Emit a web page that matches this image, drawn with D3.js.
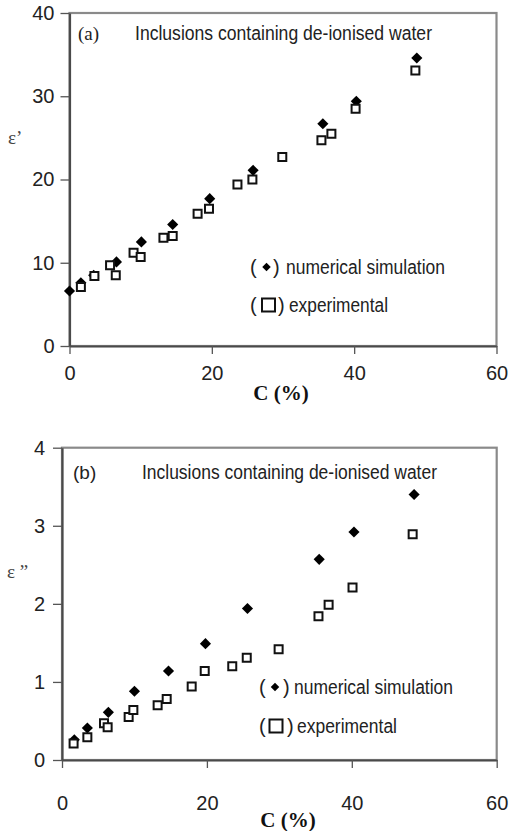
<!DOCTYPE html>
<html>
<head>
<meta charset="utf-8">
<script src="https://cdn.jsdelivr.net/npm/d3@7"></script>
<style>
  html, body { margin: 0; padding: 0; background: #fff; }
  svg { display: block; }
  .tick text { font-family: "Liberation Sans", Arial, sans-serif; font-size: 20px; fill: #222; }
</style>
</head>
<body>
<svg id="chart" width="510" height="831"></svg>
<script>
// ---------- DATA ----------
const xTicks = [0, 20, 40, 60];
const yTicksA = [0, 10, 20, 30, 40];
const yTicksB = [0, 1, 2, 3, 4];

// Panel (a): real part ε'
const simA_C   = [0, 1.6, 3.4, 6.6, 10.1, 14.5, 19.7, 25.8, 35.6, 40.3, 48.8];
const simA_eps = [6.6, 7.6, 8.5, 10.1, 12.5, 14.6, 17.7, 21.1, 26.7, 29.4, 34.6];
const expA_C   = [1.6, 3.5, 5.7, 6.5, 9.0, 10.0, 13.2, 14.5, 18.0, 19.6, 23.6, 25.7, 29.9, 35.4, 36.8, 40.2, 48.6];
const expA_eps = [7.1, 8.4, 9.7, 8.5, 11.2, 10.7, 13.0, 13.2, 15.9, 16.5, 19.4, 20.0, 22.7, 24.7, 25.5, 28.5, 33.1];

// Panel (b): imaginary part ε''
const simB_C   = [1.7, 3.5, 6.4, 10.0, 14.7, 19.8, 25.6, 35.5, 40.3, 48.6];
const simB_eps = [0.26, 0.41, 0.61, 0.88, 1.14, 1.49, 1.94, 2.57, 2.92, 3.40];
const expB_C   = [1.6, 3.5, 5.8, 6.3, 9.2, 9.85, 13.2, 14.45, 17.9, 19.7, 23.5, 25.5, 29.9, 35.4, 36.8, 40.1, 48.4];
const expB_eps = [0.21, 0.29, 0.47, 0.42, 0.55, 0.64, 0.70, 0.78, 0.94, 1.14, 1.20, 1.31, 1.42, 1.84, 1.99, 2.21, 2.89];

const titleText = "Inclusions containing de-ionised water";
const legendSim = "numerical simulation";
const legendExp = "experimental";
const xLabel = "C (%)";

// ---------- DRAW ----------
const svg = d3.select("#chart");
const narrow = '"Liberation Sans Narrow", "Arial Narrow", "Liberation Sans", Arial, sans-serif';

function panel(cfg) {
  const x = d3.scaleLinear().domain([0, 60]).range([cfg.x0, cfg.x1]);
  const y = d3.scaleLinear().domain(cfg.yDomain).range([cfg.y0, cfg.y1]);
  const g = svg.append("g");

  // frame (grey)
  g.append("rect")
    .attr("x", x(0)).attr("y", y(cfg.yDomain[1]))
    .attr("width", x(60) - x(0)).attr("height", y(cfg.yDomain[0]) - y(cfg.yDomain[1]))
    .attr("fill", "#fff").attr("stroke", "#8a8a8a").attr("stroke-width", 2.2);

  // axes
  const ax = g.append("g").attr("transform", `translate(0,${y(0)})`)
    .call(d3.axisBottom(x).tickValues(xTicks).tickFormat(d3.format("d"))
      .tickSize(8).tickPadding(cfg.xPad).tickSizeOuter(0));
  const ay = g.append("g").attr("transform", `translate(${x(0)},0)`)
    .call(d3.axisLeft(y).tickValues(cfg.yTicks).tickFormat(d3.format("d"))
      .tickSize(9).tickPadding(cfg.yPad).tickSizeOuter(0));
  [ax, ay].forEach(a => {
    a.select(".domain").attr("stroke", "#4a4a4a").attr("stroke-width", 2.2);
    a.selectAll(".tick line").attr("stroke", "#555").attr("stroke-width", 1.3);
  });

  // diamonds (simulation) first, squares (experimental) on top
  const diamond = d3.symbol(d3.symbolSquare, 62)();
  g.selectAll(".sim").data(cfg.simC.map((c, i) => [c, cfg.simE[i]])).join("path")
    .attr("d", diamond)
    .attr("transform", d => `translate(${x(d[0])},${y(d[1])}) rotate(45)`)
    .attr("fill", "#000");
  const square = d3.symbol(d3.symbolSquare, 64)();
  g.selectAll(".exp").data(cfg.expC.map((c, i) => [c, cfg.expE[i]])).join("path")
    .attr("d", square)
    .attr("transform", d => `translate(${x(d[0])},${y(d[1])})`)
    .attr("fill", "#fff").attr("stroke", "#111").attr("stroke-width", 2);

  // panel tag and title
  g.append("text").attr("x", cfg.tagX).attr("y", cfg.titleY)
    .attr("font-family", cfg.tagFont).attr("font-size", 19).attr("fill", "#222")
    .text(cfg.tag);
  g.append("text").attr("x", cfg.titleX).attr("y", cfg.titleY)
    .attr("font-family", narrow).attr("font-size", 20).attr("fill", "#222")
    .attr("textLength", cfg.titleW).attr("lengthAdjust", "spacingAndGlyphs")
    .text(titleText);

  // legend
  const L = cfg.leg;
  const lf = (sel) => sel.attr("font-family", narrow).attr("font-size", 20).attr("fill", "#222");
  g.append("text").attr("x", L.x).attr("y", L.y1).call(lf).text("(");
  g.append("path").attr("d", d3.symbol(d3.symbolSquare, 36)())
    .attr("transform", `translate(${L.dx},${L.y1 - 7}) rotate(45)`).attr("fill", "#000");
  g.append("text").attr("x", L.px1).attr("y", L.y1).call(lf).text(")");
  g.append("text").attr("x", L.tx1).attr("y", L.y1).call(lf)
    .attr("textLength", L.w1).attr("lengthAdjust", "spacingAndGlyphs").text(legendSim);

  g.append("text").attr("x", L.x).attr("y", L.y2).call(lf).text("(");
  g.append("path").attr("d", d3.symbol(d3.symbolSquare, 169)())
    .attr("transform", `translate(${L.sx},${L.y2 - 7})`)
    .attr("fill", "#fff").attr("stroke", "#111").attr("stroke-width", 2);
  g.append("text").attr("x", L.px2).attr("y", L.y2).call(lf).text(")");
  g.append("text").attr("x", L.tx2).attr("y", L.y2).call(lf)
    .attr("textLength", L.w2).attr("lengthAdjust", "spacingAndGlyphs").text(legendExp);

  // axis labels
  g.append("text").attr("x", cfg.xlX).attr("y", cfg.xlY).attr("text-anchor", "middle")
    .attr("font-family", '"Liberation Serif", "Times New Roman", serif')
    .attr("font-weight", "bold").attr("font-size", 21).attr("fill", "#111")
    .text(xLabel);
  g.append("text").attr("x", cfg.ylX).attr("y", cfg.ylY)
    .attr("font-family", '"Liberation Serif", "Times New Roman", serif')
    .attr("font-size", 19).attr("fill", "#444")
    .text(cfg.yLabel);
}

panel({
  x0: 69.5, x1: 496.5, y0: 346, y1: 13, yDomain: [0, 40], yTicks: yTicksA,
  xPad: 12, yPad: 6,
  simC: simA_C, simE: simA_eps, expC: expA_C, expE: expA_eps,
  tag: "(a)", tagFont: '"Liberation Serif", "Times New Roman", serif', tagX: 78, titleX: 135, titleW: 297, titleY: 40,
  leg: { x: 250, dx: 266.5, px1: 273, tx1: 286, w1: 159, y1: 274,
         sx: 268.5, px2: 278, tx2: 289, w2: 99, y2: 312 },
  xlX: 281, xlY: 400, ylX: 8, ylY: 144, yLabel: "ε’"
});

panel({
  x0: 62, x1: 496.7, y0: 760, y1: 447.7, yDomain: [0, 4], yTicks: yTicksB,
  xPad: 28, yPad: 8,
  simC: simB_C, simE: simB_eps, expC: expB_C, expE: expB_eps,
  tag: "(b)", tagFont: '"Liberation Sans", Arial, sans-serif', tagX: 73, titleX: 142, titleW: 295, titleY: 479,
  leg: { x: 259, dx: 275, px1: 283, tx1: 294, w1: 159, y1: 694,
         sx: 276, px2: 287, tx2: 297, w2: 100, y2: 733 },
  xlX: 288, xlY: 827, ylX: 7, ylY: 578, yLabel: "ε ”"
});
</script>
</body>
</html>
